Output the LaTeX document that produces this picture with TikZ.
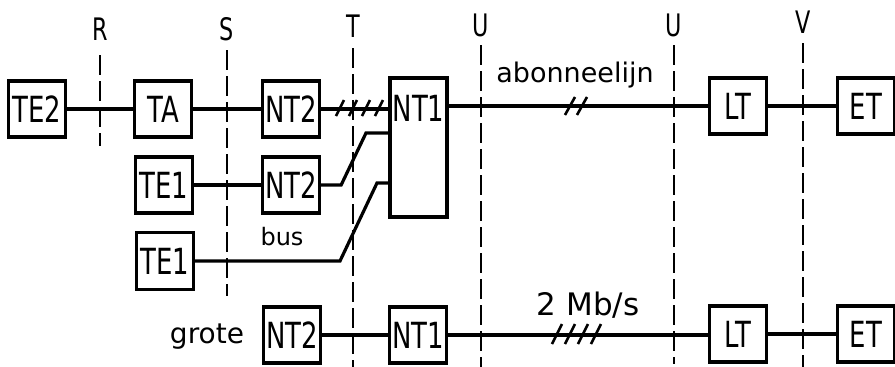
\documentclass[tikz,border=0pt]{standalone}
\usepackage{fontspec}
\setmainfont{DejaVu Sans}
\newfontfamily\isofont[FakeStretch=0.72]{DejaVu Sans}

\begin{document}
\begin{tikzpicture}[x=1pt, y=-1pt,
    box/.style={draw, line width=3.3pt, minimum width=57pt, minimum height=56pt,
        inner sep=0pt, font=\isofont\fontsize{36}{40}\selectfont},
    boxtekst/.style={inner sep=0pt, font=\isofont\fontsize{36}{40}\selectfont},
    lijn/.style={line width=3.2pt},
    streep/.style={line width=2.6pt},
    refline/.style={line width=2.8pt, dash pattern=on 20pt off 6pt},
    reflabel/.style={inner sep=0pt, font=\isofont\fontsize{31}{33}\selectfont},
    tekst/.style={inner sep=0pt, anchor=base, font=\fontsize{26}{28}\selectfont}]
    \useasboundingbox (0,0) rectangle (895,367);
    % referentiepunten R, S, T, U, V
    \foreach \x/\lab/\ly/\ya/\yb in {100/R/29/55/146, 227/S/29/50/296, 353/T/26/48/367,
        481/U/25/45/367, 674/U/25/45/364, 803/V/22/43/367} {
        \node[reflabel] (ref\x) at (\x,\ly) {\lab};
        \draw[refline] (\x,\ya) -- (\x,\yb);
    }
    % blokken
    \node[box] (te2) at (37,109) {TE2};
    \node[box] (ta) at (163,109) {TA};
    \node[box] (nt2a) at (291,109) {NT2};
    \node[box, minimum height=139pt] (nt1a) at (418.5,147.5) {};
    \node[boxtekst] (nt1txt) at (418.5,108) {NT1};
    \node[box] (te1a) at (164,185) {TE1};
    \node[box] (nt2b) at (291,185) {NT2};
    \node[box, minimum height=57pt] (te1b) at (165,261) {TE1};
    \node[box] (nt2c) at (292,335) {NT2};
    \node[box] (nt1b) at (418,335) {NT1};
    \node[box] (lta) at (738,106) {LT};
    \node[box] (eta) at (866,106) {ET};
    \node[box] (ltb) at (738,334) {LT};
    \node[box] (etb) at (866,334) {ET};
    % verbindingen
    \draw[lijn] (te2) -- (ta);
    \draw[lijn] (ta) -- (nt2a);
    \draw[lijn] (nt2a.east) -- (nt2a.east -| nt1a.west);
    \foreach \x in {340,353,366,379} {
        \draw[streep] (\x-4,116) -- (\x+4,100);
    }
    \draw[lijn] (lta.west -| nt1a.east) -- (lta.west);
    \foreach \x in {570,582} {
        \draw[streep] (\x-5,115) -- (\x+5,97);
    }
    \draw[lijn] (lta) -- (eta);
    \draw[lijn] (te1a) -- (nt2b);
    % bus
    \draw[lijn] (nt2b.east) -- ++(20,0) -- (366,133) -- (nt1a.west |- 0,133);
    \draw[lijn] (te1b.east) -- (340,261) -- (377,183) -- (nt1a.west |- 0,183);
    % onderste rij
    \draw[lijn] (nt2c) -- (nt1b);
    \draw[lijn] (nt1b.east) -- (nt1b.east -| ltb.west);
    \foreach \x in {557,570,583,596} {
        \draw[streep] (\x-5,344) -- (\x+5,324);
    }
    \draw[lijn] (ltb) -- (etb);
    % teksten
    \node[tekst, font=\fontsize{27}{29}\selectfont] (abon) at (575,82) {abonneelijn};
    \node[tekst, font=\fontsize{31}{33}\selectfont] (snelheid) at (588,315) {2 Mb/s};
    \node[tekst, font=\fontsize{24}{26}\selectfont] (bus) at (282,245) {bus};
    \node[tekst, font=\fontsize{28}{30}\selectfont] (grote) at (207,343) {grote};
\end{tikzpicture}
\end{document}
